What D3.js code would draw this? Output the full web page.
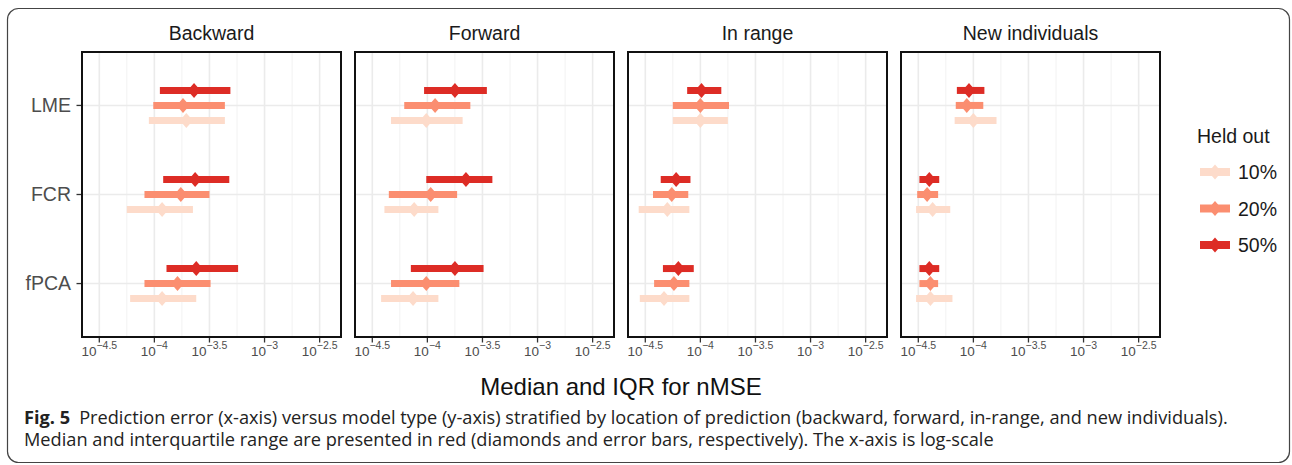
<!DOCTYPE html>
<html>
<head>
<meta charset="utf-8">
<script src="https://cdn.jsdelivr.net/npm/d3@7"></script>
<style>
  body { margin: 0; background: #fff; }
  svg { display: block; }
</style>
</head>
<body>
<svg id="chart"></svg>
<script>
// values are log10(nMSE)
var facets = ['Backward', 'Forward', 'In range', 'New individuals']
var models = ['LME', 'FCR', 'fPCA']
var heldOut = ['10%', '20%', '50%']
var tickExps = [-4.5, -4, -3.5, -3, -2.5]
var minorExps = [-4.25, -3.75, -3.25, -2.75]

// each row: [facet, model, held out, q1, median, q3]
var backward = [
  ['Backward', 'LME', '50%', -3.95, -3.64, -3.31],
  ['Backward', 'LME', '20%', -4.01, -3.74, -3.36],
  ['Backward', 'LME', '10%', -4.05, -3.71, -3.36],
  ['Backward', 'FCR', '50%', -3.92, -3.63, -3.32],
  ['Backward', 'FCR', '20%', -4.09, -3.76, -3.50],
  ['Backward', 'FCR', '10%', -4.25, -3.93, -3.65],
  ['Backward', 'fPCA', '50%', -3.89, -3.62, -3.24],
  ['Backward', 'fPCA', '20%', -4.09, -3.79, -3.49],
  ['Backward', 'fPCA', '10%', -4.22, -3.93, -3.62]
]
var forward = [
  ['Forward', 'LME', '50%', -4.03, -3.75, -3.46],
  ['Forward', 'LME', '20%', -4.21, -3.93, -3.61],
  ['Forward', 'LME', '10%', -4.33, -4.01, -3.68],
  ['Forward', 'FCR', '50%', -4.01, -3.65, -3.41],
  ['Forward', 'FCR', '20%', -4.35, -3.97, -3.73],
  ['Forward', 'FCR', '10%', -4.39, -4.12, -3.90],
  ['Forward', 'fPCA', '50%', -4.15, -3.75, -3.49],
  ['Forward', 'fPCA', '20%', -4.33, -4.01, -3.71],
  ['Forward', 'fPCA', '10%', -4.42, -4.13, -3.90]
]
var inRange = [
  ['In range', 'LME', '50%', -4.12, -3.99, -3.81],
  ['In range', 'LME', '20%', -4.25, -4.00, -3.74],
  ['In range', 'LME', '10%', -4.25, -4.00, -3.75],
  ['In range', 'FCR', '50%', -4.36, -4.22, -4.09],
  ['In range', 'FCR', '20%', -4.43, -4.26, -4.11],
  ['In range', 'FCR', '10%', -4.56, -4.30, -4.10],
  ['In range', 'fPCA', '50%', -4.34, -4.20, -4.06],
  ['In range', 'fPCA', '20%', -4.42, -4.24, -4.10],
  ['In range', 'fPCA', '10%', -4.55, -4.33, -4.10]
]
var newIndividuals = [
  ['New individuals', 'LME', '50%', -4.15, -4.04, -3.90],
  ['New individuals', 'LME', '20%', -4.16, -4.06, -3.91],
  ['New individuals', 'LME', '10%', -4.17, -4.00, -3.79],
  ['New individuals', 'FCR', '50%', -4.49, -4.40, -4.31],
  ['New individuals', 'FCR', '20%', -4.51, -4.42, -4.32],
  ['New individuals', 'FCR', '10%', -4.52, -4.37, -4.21],
  ['New individuals', 'fPCA', '50%', -4.49, -4.40, -4.31],
  ['New individuals', 'fPCA', '20%', -4.49, -4.39, -4.32],
  ['New individuals', 'fPCA', '10%', -4.52, -4.39, -4.19]
]

var caption1 = 'Prediction error (x-axis) versus model type (y-axis) stratified by location of prediction (backward, forward, in-range, and new individuals).'
var caption2 = 'Median and interquartile range are presented in red (diamonds and error bars, respectively). The x-axis is log-scale'

;(function () {
  var width = 1292; var height = 465
  var top = 52; var bottom = 337

  var svg = d3.select('#chart')
    .attr('width', width)
    .attr('height', height)
    .style('font-family', '"Liberation Sans", Arial, sans-serif')

  var rows = backward.concat(forward, inRange, newIndividuals).map(r => {
    return { facet: r[0], model: r[1], held: r[2], lo: r[3], mid: r[4], hi: r[5] }
  })

  const facetScale = d3.scaleBand()
    .domain(facets)
    .range([82, 1160])
    .paddingInner(0.0513)

  const xScale = d3.scaleLog()
    .domain([Math.pow(10, -4.657), Math.pow(10, -2.306)])
    .range([0, facetScale.bandwidth()])

  const yScale = d3.scalePoint()
    .domain(models)
    .range([top, bottom])
    .padding(0.6)

  const dodgeScale = d3.scalePoint()
    .domain(['50%', '20%', '10%'])
    .range([-15, 15])

  const colorScale = d3.scaleOrdinal()
    .domain(heldOut)
    .range(['#fddbca', '#fb8e70', '#dd2c25'])

  var diamond = 'M0,-7.5L6.5,0L0,7.5L-6.5,0Z'

  // outer frame
  svg.append('rect')
    .attr('x', 7.5).attr('y', 8.5)
    .attr('width', 1282).attr('height', 454)
    .attr('rx', 11)
    .attr('fill', 'none')
    .attr('stroke', '#444')
    .attr('stroke-width', 1.2)

  facets.forEach(f => {
    var g = svg.append('g')
      .attr('transform', 'translate(' + facetScale(f) + ',0)')
    var w = facetScale.bandwidth()

    g.append('rect')
      .attr('x', 0).attr('y', top)
      .attr('width', w).attr('height', bottom - top)
      .attr('fill', '#fff')

    g.selectAll('.minor')
      .data(minorExps)
      .enter().append('line')
      .attr('x1', d => xScale(Math.pow(10, d)))
      .attr('x2', d => xScale(Math.pow(10, d)))
      .attr('y1', top).attr('y2', bottom)
      .attr('stroke', '#f2f2f2')
      .attr('stroke-width', 1)

    g.selectAll('.major')
      .data(tickExps)
      .enter().append('line')
      .attr('x1', d => xScale(Math.pow(10, d)))
      .attr('x2', d => xScale(Math.pow(10, d)))
      .attr('y1', top).attr('y2', bottom)
      .attr('stroke', '#ebebeb')
      .attr('stroke-width', 1.6)

    g.selectAll('.hgrid')
      .data(models)
      .enter().append('line')
      .attr('x1', 0).attr('x2', w)
      .attr('y1', d => yScale(d)).attr('y2', d => yScale(d))
      .attr('stroke', '#ebebeb')
      .attr('stroke-width', 1.6)

    var data = rows.filter(d => d.facet === f)
    // draw 10% first so darker series sit on top
    data.sort((a, b) => heldOut.indexOf(a.held) - heldOut.indexOf(b.held))

    g.selectAll('.bar')
      .data(data)
      .enter().append('line')
      .attr('x1', d => xScale(Math.pow(10, d.lo)))
      .attr('x2', d => xScale(Math.pow(10, d.hi)))
      .attr('y1', d => yScale(d.model) + dodgeScale(d.held))
      .attr('y2', d => yScale(d.model) + dodgeScale(d.held))
      .attr('stroke', d => colorScale(d.held))
      .attr('stroke-width', 7)

    g.selectAll('.pt')
      .data(data)
      .enter().append('path')
      .attr('d', diamond)
      .attr('transform', d => {
        return 'translate(' + xScale(Math.pow(10, d.mid)) + ',' + (yScale(d.model) + dodgeScale(d.held)) + ')'
      })
      .attr('fill', d => colorScale(d.held))

    g.append('rect')
      .attr('x', 0).attr('y', top)
      .attr('width', w).attr('height', bottom - top)
      .attr('fill', 'none')
      .attr('stroke', '#111')
      .attr('stroke-width', 2)

    // x ticks
    g.selectAll('.tick')
      .data(tickExps)
      .enter().append('line')
      .attr('x1', d => xScale(Math.pow(10, d)))
      .attr('x2', d => xScale(Math.pow(10, d)))
      .attr('y1', bottom + 1).attr('y2', bottom + 5.5)
      .attr('stroke', '#333')
      .attr('stroke-width', 1.3)

    var lab = g.selectAll('.lab')
      .data(tickExps)
      .enter().append('text')
      .attr('x', d => xScale(Math.pow(10, d)))
      .attr('y', 355.5)
      .attr('text-anchor', 'middle')
      .attr('fill', '#4d4d4d')
      .attr('font-size', 13.5)
    lab.append('tspan').text('10')
    lab.append('tspan')
      .attr('dy', -6.5)
      .attr('font-size', 10.5)
      .text(d => String(d).replace('-', '\u2212'))

    g.append('text')
      .attr('x', w / 2)
      .attr('y', 40)
      .attr('text-anchor', 'middle')
      .attr('font-size', 19.5)
      .attr('fill', '#1a1a1a')
      .text(f)
  })

  // y axis on first panel
  var x0 = facetScale(facets[0])
  svg.selectAll('.ytick')
    .data(models)
    .enter().append('line')
    .attr('x1', x0 - 5.5).attr('x2', x0 - 1)
    .attr('y1', d => yScale(d)).attr('y2', d => yScale(d))
    .attr('stroke', '#333')
    .attr('stroke-width', 1.3)

  svg.selectAll('.ylab')
    .data(models)
    .enter().append('text')
    .attr('x', x0 - 11)
    .attr('y', d => yScale(d) + 6.8)
    .attr('text-anchor', 'end')
    .attr('font-size', 19.5)
    .attr('fill', '#4d4d4d')
    .text(d => d)

  svg.append('text')
    .attr('x', (facetScale.range()[0] + facetScale.range()[1]) / 2)
    .attr('y', 395)
    .attr('text-anchor', 'middle')
    .attr('font-size', 24)
    .attr('fill', '#111')
    .text('Median and IQR for nMSE')

  // legend
  var legend = svg.append('g')
  legend.append('text')
    .attr('x', 1197).attr('y', 143)
    .attr('font-size', 19.5)
    .attr('fill', '#1a1a1a')
    .text('Held out')

  const legendY = d3.scalePoint()
    .domain(heldOut)
    .range([172, 245])

  legend.selectAll('.key')
    .data(heldOut)
    .enter().append('line')
    .attr('x1', 1200).attr('x2', 1230)
    .attr('y1', d => legendY(d)).attr('y2', d => legendY(d))
    .attr('stroke', d => colorScale(d))
    .attr('stroke-width', 8)

  legend.selectAll('.keypt')
    .data(heldOut)
    .enter().append('path')
    .attr('d', diamond)
    .attr('transform', d => 'translate(1215,' + legendY(d) + ')')
    .attr('fill', d => colorScale(d))

  legend.selectAll('.keylab')
    .data(heldOut)
    .enter().append('text')
    .attr('x', 1238)
    .attr('y', d => legendY(d) + 7)
    .attr('font-size', 19.5)
    .attr('fill', '#1a1a1a')
    .text(d => d)

  // caption
  var cap = svg.append('g')
    .style('font-family', '"Open Sans", "Noto Sans", sans-serif')
    .attr('fill', '#222')
  var l1 = cap.append('text')
    .attr('x', 24).attr('y', 424)
    .attr('font-size', 18.2)
  l1.append('tspan').attr('font-weight', 'bold').text('Fig. 5')
  l1.append('tspan').attr('dx', 9).text(caption1)
  cap.append('text')
    .attr('x', 24).attr('y', 446)
    .attr('font-size', 18.2)
    .text(caption2)
})()
</script>
</body>
</html>
